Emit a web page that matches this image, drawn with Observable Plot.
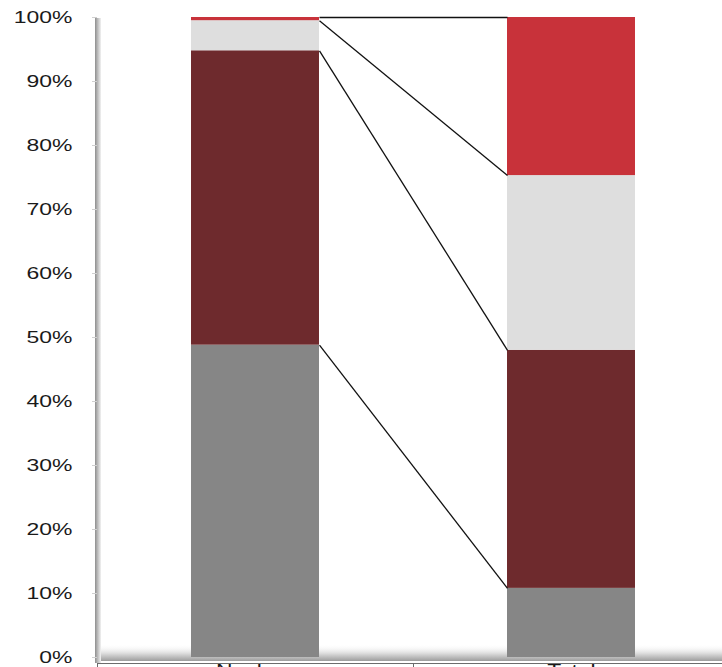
<!DOCTYPE html>
<html>
<head>
<meta charset="utf-8">
<script src="https://cdn.jsdelivr.net/npm/d3@7"></script>
<script src="https://cdn.jsdelivr.net/npm/@observablehq/plot@0.6"></script>
<style>
  html, body { margin: 0; padding: 0; background: #fff; overflow: hidden; }
</style>
</head>
<body>
<!-- shading used by the chart's wall and floor -->
<svg width="0" height="0" style="position:absolute">
  <defs>
    <linearGradient id="floorShade" x1="0" y1="0" x2="0" y2="1">
      <stop offset="0" stop-color="#ffffff" stop-opacity="0"/>
      <stop offset="0.55" stop-color="#dcdcdc"/>
      <stop offset="1" stop-color="#9c9c9c"/>
    </linearGradient>
    <linearGradient id="wallShade" x1="0" y1="0" x2="1" y2="0">
      <stop offset="0" stop-color="#8e8e8e"/>
      <stop offset="0.45" stop-color="#bcbcbc"/>
      <stop offset="1" stop-color="#f2f2f2"/>
    </linearGradient>
  </defs>
</svg>
<script>
// Share of each series within the two columns (percent, bottom to top)
const categories = ["Nuclear", "Total"];
const seriesNames = ["Series 1", "Series 2", "Series 3", "Series 4"];
const nuclearShares = [48.8, 46.0, 4.7, 0.5];
const totalShares = [10.8, 37.2, 27.3, 24.7];
const seriesColors = ["#868686", "#6e2a2d", "#dedede", "#c8323a"];
const yTicks = [0, 10, 20, 30, 40, 50, 60, 70, 80, 90, 100];

// half the column width, in category units (one unit per category)
const barHalfWidth = 0.2025;

const sharesByCategory = [nuclearShares, totalShares];
const segments = categories.flatMap((category, i) => {
  const shares = sharesByCategory[i];
  const tops = d3.cumsum(shares);
  return shares.map((share, k) => ({
    category, index: i, series: seriesNames[k],
    y1: tops[k] - share, y2: tops[k]
  }));
});

// series lines joining the top of each segment across the two columns
const nuclearTops = d3.cumsum(nuclearShares);
const totalTops = d3.cumsum(totalShares);
const seriesLines = seriesNames.map((series, k) => ({
  series, from: nuclearTops[k], to: totalTops[k]
}));

const chart = Plot.plot({
  width: 740,
  height: 700,
  marginLeft: 97,
  marginRight: 11,
  marginTop: 17,
  marginBottom: 43,
  style: {
    maxWidth: "none",
    background: "white",
    fontFamily: "'Liberation Sans', Arial, sans-serif",
    fontSize: "17px",
    color: "#1a1a1a"
  },
  x: {domain: [-0.5, 1.5], axis: null},
  y: {domain: [0, 100], axis: null},
  color: {domain: seriesNames, range: seriesColors},
  marks: [
    // floor and back wall shading
    Plot.rect([0], {x1: -0.5, x2: 1.5, y1: 0, y2: 2, insetBottom: -4, fill: "url(#floorShade)"}),
    Plot.rect([0], {x1: -0.5, x2: -0.5, y1: 0, y2: 100, insetLeft: -2, insetRight: -4, insetTop: 1, insetBottom: -6, fill: "url(#wallShade)"}),
    Plot.axisY({
      ticks: yTicks,
      tickFormat: d => d + "%",
      tickSize: 5,
      tickPadding: 20,
      stroke: "#d0d0d0",
      fill: "#1a1a1a",
      fontSize: 17
    }),
    // stacked columns
    Plot.rect(segments, {
      x1: d => d.index - barHalfWidth,
      x2: d => d.index + barHalfWidth,
      y1: "y1",
      y2: "y2",
      fill: "series"
    }),
    Plot.link(seriesLines, {
      x1: () => 0 + barHalfWidth,
      x2: () => 1 - barHalfWidth,
      y1: "from",
      y2: "to",
      stroke: "#111",
      strokeWidth: 1.3
    }),
    // category axis line and separators
    Plot.ruleY([-0.94], {stroke: "#6a6a6a"}),
    Plot.ruleX([-0.5, 0.5, 1.5], {y1: -0.94, y2: -1.8, stroke: "#6a6a6a"}),
    Plot.axisX({
      ticks: [0, 1],
      tickFormat: i => categories[i],
      tickSize: 0,
      tickPadding: 6,
      fill: "#1a1a1a",
      fontSize: 17
    })
  ]
});

document.body.append(chart);

// widen the tick labels horizontally, keeping their anchor points fixed
function widen(selector, anchor, sx) {
  chart.querySelectorAll(selector).forEach(t => {
    const b = t.getBBox();
    const ax = anchor === "end" ? b.x + b.width : b.x + b.width / 2;
    const ay = b.y + b.height / 2;
    const prev = t.getAttribute("transform") || "";
    t.setAttribute("transform", `${prev} translate(${ax},${ay}) scale(${sx},1) translate(${-ax},${-ay})`);
  });
}
widen('g[aria-label="y-axis tick label"] text', "end", 1.35);
widen('g[aria-label="x-axis tick label"] text', "middle", 1.35);
</script>
</body>
</html>
